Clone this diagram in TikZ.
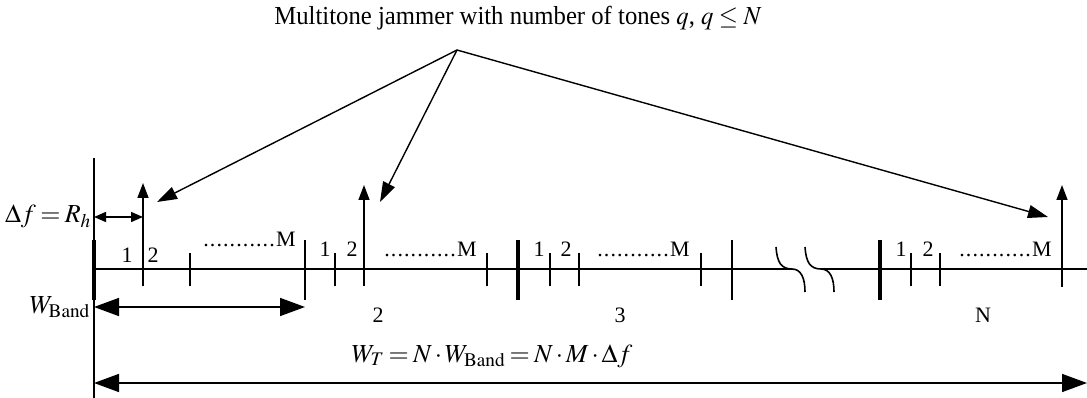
\documentclass[tikz,border=0pt]{standalone}
\usepackage{mathptmx}
\usepackage{fontspec}
\setmainfont{Liberation Serif}
\usetikzlibrary{arrows.meta}
\newcommand{\dotsM}[1]{\hbox to #1{\leaders\hbox to 6.6pt{\hss.}\hfill}M}
\newcommand{\tightmath}{\medmuskip=2mu\relax\thickmuskip=3mu\relax}
\begin{document}
\begin{tikzpicture}[x=1pt,y=-1pt,
  axisline/.style={line width=1.6pt},
  smalltick/.style={line width=1.5pt},
  bandtick/.style={line width=1.6pt},
  septick/.style={line width=3.6pt},
  tonearrow/.style={line width=1.5pt,-{Triangle[length=15pt,width=11pt]}},
  jamarrow/.style={line width=1.4pt,-{Triangle[length=20pt,width=13pt]}},
  bigdim/.style={line width=1.6pt,{Triangle[length=25pt,width=18pt]}-{Triangle[length=25pt,width=18pt]}},
  smalldim/.style={line width=1.5pt,{Triangle[length=12pt,width=10pt]}-{Triangle[length=12pt,width=10pt]}},
  lbl/.style={font=\fontsize{22}{26}\selectfont, inner sep=0pt, anchor=base},
  dlbl/.style={font=\fontsize{22}{26}\selectfont, inner sep=0pt, anchor=base east},
  mathlbl/.style={font=\fontsize{26}{30}\selectfont, inner sep=0pt},
  titlelbl/.style={font=\fontsize{26}{30}\selectfont, inner sep=0pt, anchor=base, xscale=0.95}
]
\useasboundingbox (0,0) rectangle (1087,398);

% title and apex
\node[titlelbl] (title) at (518,25) {Multitone jammer with number of tones $q$, $q\le N$};
\coordinate (apex) at (457,50);

% main axis
\coordinate (ax0) at (94,269);
\coordinate (brkA) at (792,269);
\coordinate (brkB) at (821,269);
\coordinate (axE) at (1087,269);
\draw[axisline] (ax0) -- (brkA);
\draw[axisline] (brkB) -- (axE);
% break marks
\draw[axisline] (776,247) .. controls (777,262) and (781,269) .. (brkA) .. controls (801,269) and (805,278) .. (805,292);
\draw[axisline] (805,247) .. controls (806,262) and (810,269) .. (brkB) .. controls (830,269) and (834,278) .. (834,292);

% left vertical line
\coordinate (vtop) at (94,158);
\coordinate (vbot) at (94,398);
\draw[smalltick] (vtop) -- (vbot);
\draw[septick] (94,240) -- (94,300);

% band separators
\draw[bandtick] (305,240) -- (305,300);
\draw[septick] (518,240) -- (518,300);
\draw[bandtick] (732,240) -- (732,300);
\draw[septick] (880,240) -- (880,300);

% small ticks
\foreach \x in {190,335,487,550,579,701,911,940}
  \draw[smalltick] (\x,253) -- (\x,286);

% tone arrows
\coordinate (t1b) at (143,286); \coordinate (t1) at (143,183);
\coordinate (t2b) at (364,286); \coordinate (t2) at (364,185);
\coordinate (t3b) at (1062,287); \coordinate (t3) at (1062,185);
\draw[tonearrow] (t1b) -- (t1);
\draw[tonearrow] (t2b) -- (t2);
\draw[tonearrow] (t3b) -- (t3);

% jammer arrows
\coordinate (j1) at (157,202);
\coordinate (j2) at (380,202);
\coordinate (j3) at (1048,217);
\draw[jamarrow] (apex) -- (j1);
\draw[jamarrow] (apex) -- (j2);
\draw[jamarrow] (apex) -- (j3);

% delta f
\coordinate (df0) at (94,217);
\coordinate (df1) at (143,217);
\draw[smalldim] (df0) -- (df1);
\node[mathlbl, anchor=base east] (dflbl) at (91,223) {$\tightmath\Delta f = R_h$};

% W_Band
\coordinate (wb0) at (94,307);
\coordinate (wb1) at (305,307);
\draw[bigdim] (wb0) -- (wb1);
\node[mathlbl, anchor=base east] (wblbl) at (90,313) {$W_{\mathrm{Band}}$};

% W_T
\coordinate (wt0) at (94,383);
\coordinate (wt1) at (1087,383);
\draw[bigdim] (wt0) -- (wt1);
\node[mathlbl, anchor=base] (wtlbl) at (492,362) {$\tightmath W_T = N\cdot W_{\mathrm{Band}} = N\cdot M\cdot \Delta f$};

% channel labels
\node[lbl] (b1n1) at (127,262) {1};
\node[lbl] (b1n2) at (153,262) {2};
\node[dlbl] (b1m) at (296,247) {\dotsM{74pt}};
\node[lbl] (b2n1) at (325,256) {1};
\node[lbl] (b2n2) at (352,256) {2};
\node[dlbl] (b2m) at (477,256) {\dotsM{74pt}};
\node[lbl] (b3n1) at (539,256) {1};
\node[lbl] (b3n2) at (566,256) {2};
\node[dlbl] (b3m) at (690,256) {\dotsM{74pt}};
\node[lbl] (b4n1) at (901,256) {1};
\node[lbl] (b4n2) at (928,256) {2};
\node[dlbl] (b4m) at (1052,256) {\dotsM{74pt}};

% band numbers
\node[lbl] (bn2) at (378,322) {2};
\node[lbl] (bn3) at (620,322) {3};
\node[lbl] (bnN) at (983,322) {N};
\end{tikzpicture}
\end{document}
